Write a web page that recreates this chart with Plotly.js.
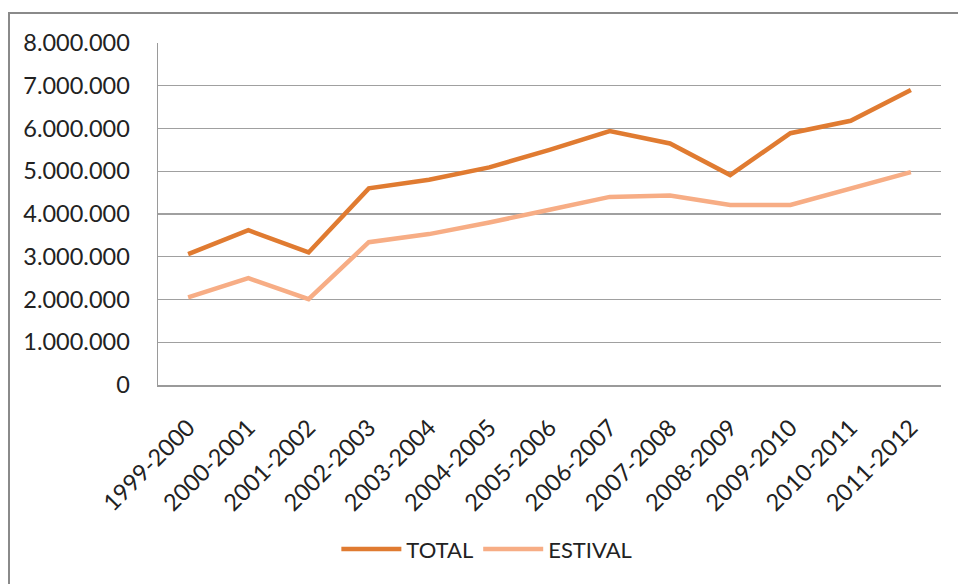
<!DOCTYPE html>
<html>
<head>
<meta charset="utf-8">
<script src="https://cdn.plot.ly/plotly-3.0.1.min.js"></script>
<style>
  html, body { margin: 0; padding: 0; background: #fff; }
  #wrap { position: relative; width: 958px; height: 584px; overflow: hidden; }
  #chart { position: absolute; left: 0; top: 0; width: 958px; height: 584px; }
  #frame { position: absolute; left: 8px; top: 12px; width: 2000px; height: 2000px;
           border-top: 2px solid #8a8a8a; border-left: 2px solid #8a8a8a; pointer-events: none; }
</style>
</head>
<body>
<div id="wrap">
  <div id="frame"></div>
  <div id="chart"></div>
</div>
<script>
const categories = ["1999-2000","2000-2001","2001-2002","2002-2003","2003-2004","2004-2005","2005-2006","2006-2007","2007-2008","2008-2009","2009-2010","2010-2011","2011-2012"];
const totalValues = [3060000, 3620000, 3100000, 4600000, 4800000, 5090000, 5500000, 5940000, 5650000, 4910000, 5890000, 6180000, 6900000];
const estivalValues = [2050000, 2500000, 2010000, 3340000, 3530000, 3800000, 4100000, 4400000, 4430000, 4210000, 4210000, 4600000, 4980000];
const yTicks = [0, 1000000, 2000000, 3000000, 4000000, 5000000, 6000000, 7000000, 8000000];

const font = "Lato, 'Liberation Sans', sans-serif";

const traces = [
  { type: "scatter", mode: "lines", name: "TOTAL", x: categories, y: totalValues,
    line: { color: "#E07B31", width: 4.5 } },
  { type: "scatter", mode: "lines", name: "ESTIVAL", x: categories, y: estivalValues,
    line: { color: "#F7AD85", width: 4.5 } }
];

const layout = {
  width: 958, height: 584,
  margin: { l: 158, r: 17, t: 43, b: 199 },
  paper_bgcolor: "rgba(0,0,0,0)",
  plot_bgcolor: "#ffffff",
  separators: ",.",
  font: { family: font, size: 23, color: "#222222" },
  showlegend: true,
  legend: {
    orientation: "h", x: 0.42, xanchor: "center", y: -0.48, yanchor: "middle",
    font: { family: font, size: 22, color: "#222222" },
    bgcolor: "rgba(0,0,0,0)", itemwidth: 60, tracegroupgap: 0
  },
  xaxis: {
    type: "category", range: [-0.5, 12.5],
    showgrid: false, zeroline: false,
    showline: true, linecolor: "#9a9a9a", linewidth: 1.5,
    ticks: "", tickangle: -45, ticklabelstandoff: 18,
    tickfont: { family: font, size: 23.5, color: "#222222" },
    fixedrange: true
  },
  yaxis: {
    range: [0, 8000000], tickvals: yTicks, tickformat: ",d",
    showgrid: true, gridcolor: "#a0a0a0", gridwidth: 1.2,
    zeroline: false,
    showline: true, linecolor: "#9a9a9a", linewidth: 1.5,
    ticks: "", ticklabelstandoff: 22,
    tickfont: { family: font, size: 23.5, color: "#222222" },
    fixedrange: true
  }
};

Plotly.newPlot("chart", traces, layout, { displayModeBar: false, staticPlot: true });
</script>
</body>
</html>
